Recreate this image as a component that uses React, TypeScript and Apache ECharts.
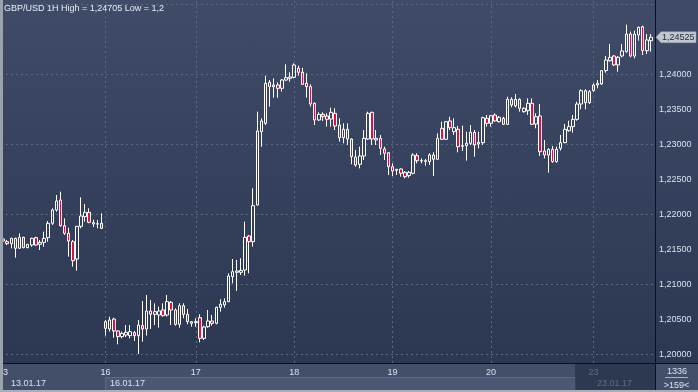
import React, { useEffect, useRef } from 'react';
import * as echarts from 'echarts';

// GBP/USD hourly bars: [open, close, low, high]
const day13: number[][] = [
  [1.21614, 1.21643, 1.21605, 1.21724], [1.21605, 1.21576, 1.21557, 1.21629], [1.21576, 1.21652, 1.21510, 1.21662],
  [1.21652, 1.21510, 1.21376, 1.21662], [1.21510, 1.21667, 1.21505, 1.21724], [1.21667, 1.21519, 1.21510, 1.21676],
  [1.21519, 1.21567, 1.21510, 1.21572], [1.21557, 1.21652, 1.21533, 1.21662], [1.21662, 1.21557, 1.21548, 1.21676],
  [1.21567, 1.21595, 1.21486, 1.21629], [1.21595, 1.21652, 1.21533, 1.21748], [1.21662, 1.21867, 1.21605, 1.21900],
  [1.21867, 1.22057, 1.21843, 1.22081], [1.22057, 1.22186, 1.22033, 1.22271], [1.22200, 1.21833, 1.21819, 1.22319],
  [1.21833, 1.21724, 1.21700, 1.21938], [1.21724, 1.21614, 1.21391, 1.21805], [1.21605, 1.21333, 1.21248, 1.21629],
  [1.21357, 1.21824, 1.21190, 1.21830], [1.21824, 1.21971, 1.21795, 1.22238], [1.21962, 1.22024, 1.21890, 1.22143],
  [1.22024, 1.21881, 1.21867, 1.22081], [1.21857, 1.21876, 1.21814, 1.21919], [1.21857, 1.21860, 1.21795, 1.21914],
  [1.21867, 1.21795, 1.21790, 1.22010],
];
const day16: number[][] = [
  [1.20462, 1.20367, 1.20262, 1.20486], [1.20357, 1.20486, 1.20319, 1.20533], [1.20500, 1.20329, 1.20233, 1.20519],
  [1.20329, 1.20248, 1.20138, 1.20338], [1.20248, 1.20295, 1.20224, 1.20319], [1.20271, 1.20310, 1.20243, 1.20414],
  [1.20262, 1.20319, 1.20224, 1.20414], [1.20305, 1.20262, 1.20186, 1.20329], [1.20262, 1.20414, 1.20000, 1.20486],
  [1.20405, 1.20357, 1.20176, 1.20757], [1.20357, 1.20614, 1.20262, 1.20843], [1.20614, 1.20567, 1.20357, 1.20771],
  [1.20567, 1.20605, 1.20414, 1.20724], [1.20557, 1.20614, 1.20376, 1.20676], [1.20629, 1.20548, 1.20533, 1.20724],
  [1.20557, 1.20748, 1.20533, 1.20843], [1.20738, 1.20629, 1.20414, 1.20757], [1.20629, 1.20424, 1.20405, 1.20652],
  [1.20424, 1.20690, 1.20376, 1.20724], [1.20690, 1.20567, 1.20510, 1.20724], [1.20567, 1.20462, 1.20424, 1.20643],
  [1.20462, 1.20438, 1.20390, 1.20471],
];
const day17: number[][] = [
  [1.20448, 1.20462, 1.20390, 1.20510], [1.20519, 1.20224, 1.20167, 1.20567], [1.20224, 1.20386, 1.20200, 1.20405],
  [1.20390, 1.20471, 1.20376, 1.20629], [1.20471, 1.20438, 1.20405, 1.20557], [1.20438, 1.20667, 1.20424, 1.20676],
  [1.20667, 1.20710, 1.20605, 1.20781], [1.20700, 1.20748, 1.20662, 1.20795], [1.20748, 1.21114, 1.20740, 1.21152],
  [1.21105, 1.21176, 1.21010, 1.21357], [1.21167, 1.21186, 1.20900, 1.21343], [1.21167, 1.21195, 1.21129, 1.21367],
  [1.21200, 1.21667, 1.21119, 1.21890], [1.21686, 1.21605, 1.21152, 1.21700], [1.21605, 1.22119, 1.21533, 1.22367],
  [1.22129, 1.23186, 1.22119, 1.23462], [1.23176, 1.23329, 1.22962, 1.23367], [1.23295, 1.23867, 1.23271, 1.23976],
  [1.23881, 1.23819, 1.23533, 1.23914], [1.23819, 1.23843, 1.23662, 1.23938], [1.23843, 1.23795, 1.23662, 1.23881],
  [1.23795, 1.23914, 1.23748, 1.23929], [1.23914, 1.23948, 1.23900, 1.24138], [1.23938, 1.23957, 1.23891, 1.24024],
];
const day18: number[][] = [
  [1.23952, 1.24129, 1.23938, 1.24152], [1.24081, 1.24024, 1.23976, 1.24119], [1.24024, 1.23852, 1.23843, 1.24090],
  [1.23867, 1.23819, 1.23662, 1.24010], [1.23819, 1.23571, 1.23533, 1.23852], [1.23581, 1.23343, 1.23271, 1.23595],
  [1.23343, 1.23424, 1.23329, 1.23452], [1.23424, 1.23390, 1.23329, 1.23452], [1.23400, 1.23352, 1.23248, 1.23438],
  [1.23357, 1.23452, 1.23248, 1.23519], [1.23438, 1.23257, 1.23200, 1.23510], [1.23271, 1.23090, 1.23033, 1.23367],
  [1.23090, 1.23210, 1.23010, 1.23295], [1.23210, 1.23071, 1.22986, 1.23295], [1.23071, 1.22819, 1.22710, 1.23081],
  [1.22814, 1.22700, 1.22676, 1.22914], [1.22710, 1.22829, 1.22652, 1.22962], [1.22829, 1.23081, 1.22771, 1.23200],
  [1.23071, 1.23438, 1.23057, 1.23462], [1.23452, 1.23071, 1.22986, 1.23462], [1.23081, 1.23057, 1.22986, 1.23200],
  [1.23081, 1.22938, 1.22843, 1.23129], [1.22929, 1.22867, 1.22771, 1.22962], [1.22876, 1.22676, 1.22557, 1.22881],
];
const day19: number[][] = [
  [1.22676, 1.22614, 1.22543, 1.22724], [1.22624, 1.22638, 1.22557, 1.22645], [1.22643, 1.22581, 1.22533, 1.22652],
  [1.22595, 1.22533, 1.22510, 1.22614], [1.22548, 1.22595, 1.22519, 1.22614], [1.22581, 1.22843, 1.22567, 1.22867],
  [1.22833, 1.22762, 1.22724, 1.22867], [1.22757, 1.22762, 1.22724, 1.22795], [1.22752, 1.22762, 1.22690, 1.22786],
  [1.22748, 1.22843, 1.22700, 1.22867], [1.22843, 1.22781, 1.22543, 1.22881], [1.22781, 1.23081, 1.22781, 1.23152],
  [1.23224, 1.23067, 1.23057, 1.23319], [1.23067, 1.23319, 1.23057, 1.23329], [1.23329, 1.23233, 1.23200, 1.23390],
  [1.23176, 1.23233, 1.23129, 1.23367], [1.23210, 1.22962, 1.22881, 1.23257], [1.22967, 1.22976, 1.22900, 1.23262],
  [1.22976, 1.23010, 1.22762, 1.23176], [1.23010, 1.23167, 1.22986, 1.23271], [1.23167, 1.22986, 1.22819, 1.23200],
  [1.23000, 1.23024, 1.22938, 1.23176], [1.23019, 1.23376, 1.22986, 1.23390], [1.23367, 1.23295, 1.23248, 1.23414],
];
const day20: number[][] = [
  [1.23295, 1.23405, 1.23248, 1.23414], [1.23414, 1.23329, 1.23319, 1.23438], [1.23319, 1.23381, 1.23305, 1.23400],
  [1.23367, 1.23281, 1.23271, 1.23390], [1.23281, 1.23638, 1.23271, 1.23676], [1.23638, 1.23557, 1.23524, 1.23667],
  [1.23543, 1.23638, 1.23524, 1.23714], [1.23638, 1.23510, 1.23462, 1.23652], [1.23462, 1.23510, 1.23448, 1.23524],
  [1.23476, 1.23581, 1.23414, 1.23652], [1.23581, 1.23281, 1.23271, 1.23652], [1.23286, 1.23390, 1.23224, 1.23438],
  [1.23400, 1.22890, 1.22829, 1.23571], [1.22900, 1.22843, 1.22795, 1.23057], [1.22843, 1.22924, 1.22590, 1.22938],
  [1.22924, 1.22748, 1.22733, 1.22971], [1.22748, 1.22924, 1.22733, 1.22962], [1.22938, 1.23019, 1.22905, 1.23129],
  [1.23019, 1.23210, 1.23010, 1.23286], [1.23190, 1.23248, 1.23176, 1.23333], [1.23248, 1.23352, 1.23162, 1.23414],
  [1.23352, 1.23571, 1.23333, 1.23605], [1.23571, 1.23762, 1.23495, 1.23781], [1.23762, 1.23590, 1.23495, 1.23781],
  [1.23590, 1.23748, 1.23571, 1.23771],
];
const day23: number[][] = [
  [1.23762, 1.23843, 1.23748, 1.23867], [1.23843, 1.23867, 1.23795, 1.23914], [1.23857, 1.24048, 1.23843, 1.24057],
  [1.24048, 1.24200, 1.24019, 1.24257], [1.24190, 1.24238, 1.24176, 1.24429], [1.24257, 1.24129, 1.24114, 1.24271],
  [1.24129, 1.24238, 1.24033, 1.24257], [1.24257, 1.24329, 1.24238, 1.24429], [1.24319, 1.24571, 1.24305, 1.24705],
  [1.24571, 1.24257, 1.24238, 1.24605], [1.24257, 1.24571, 1.24224, 1.24619], [1.24557, 1.24667, 1.24476, 1.24676],
  [1.24676, 1.24333, 1.24271, 1.24690], [1.24333, 1.24486, 1.24286, 1.24571], [1.24476, 1.24525, 1.24319, 1.24571],
];

const dayBars = [day13, day16, day17, day18, day19, day20, day23];
const dayLabels = ['13', '16', '17', '18', '19', '20', '23'];
const weekLabels = ['13.01.17', '16.01.17', '23.01.17'];
const priceTicks = [1.2, 1.205, 1.21, 1.215, 1.22, 1.225, 1.23, 1.235, 1.24, 1.245];
const symbol = 'GBP/USD';
const timeframe = '1H';
const counterLabel = '1336';

const FONT = '"Liberation Sans", Arial, sans-serif';
const W = 698;
const H = 392;
const LABEL_COLOR = '#d8e2f2';

const fmt = (v: number) => v.toFixed(5).replace('.', ',');
const fmtShort = (v: number) => String(Number(v.toFixed(5))).replace('.', ',');

export default function App() {
  const ref = useRef<HTMLDivElement>(null);

  useEffect(() => {
    const el = ref.current;
    if (!el) return;
    const chart = echarts.init(el, null, { renderer: 'svg' });

    const bars = dayBars.flat();
    const starts: number[] = [];
    let acc = 0;
    dayBars.forEach((d) => {
      starts.push(acc);
      acc += d.length;
    });
    const cats = bars.map((_, i) => String(i));
    const hi = Math.max(...bars.map((b) => b[3]));
    const lo = Math.min(...bars.map((b) => b[2]));
    const last = bars[bars.length - 1][1];
    const title = `${symbol} ${timeframe} High = ${fmtShort(hi)} Low = ${fmtShort(lo)}`;

    const txt = (id: string, text: string, x: number, y: number, fill: string, align = 'left', z = 20) => ({
      id, type: 'text', x, y, z, silent: true,
      style: { text, fill, fontSize: 9, fontFamily: FONT, align, verticalAlign: 'middle' },
    });

    const buildGraphic = (tagY: number | null, firstDayX: number | null) => {
      const g: any[] = [
        { id: 'bg', type: 'rect', z: -10, silent: true, shape: { x: 0, y: 0, width: W, height: H }, style: { fill: '#3a4661' } },
        {
          id: 'plotbg', type: 'rect', z: -9, silent: true, shape: { x: 0, y: 0, width: W, height: 363 },
          style: {
            fill: new echarts.graphic.LinearGradient(0, 0, 0, 1, [
              { offset: 0, color: '#3f4b67' },
              { offset: 1, color: '#2c3752' },
            ]),
          },
        },
        { id: 'xstrip', type: 'rect', z: -9, silent: true, shape: { x: 0, y: 363, width: W, height: 27 }, style: { fill: '#434f69' } },
        { id: 'weekbox', type: 'rect', z: -8, silent: true, shape: { x: 105.5, y: 377.5, width: 470, height: 13 }, style: { fill: '#4c5873', stroke: '#5b6883', lineWidth: 1 } },
        txt('wk0', weekLabels[0], 11, 383, LABEL_COLOR),
        txt('wk1', weekLabels[1], 110, 383, LABEL_COLOR),
        txt('wk2', weekLabels[2], 597, 383, LABEL_COLOR),
        { id: 'overlay', type: 'rect', z: 50, silent: true, shape: { x: 575, y: 364, width: 80, height: 26 }, style: { fill: 'rgba(36,46,70,0.68)' } },
        { id: 'hline', type: 'line', z: 60, silent: true, shape: { x1: 3, y1: 363.5, x2: W, y2: 363.5 }, style: { stroke: '#0d1018', lineWidth: 1 } },
        { id: 'vline', type: 'line', z: 60, silent: true, shape: { x1: 655.5, y1: 0, x2: 655.5, y2: 390 }, style: { stroke: '#0d1018', lineWidth: 1 } },
        { id: 'frameL', type: 'rect', z: 70, silent: true, shape: { x: 0, y: 0, width: 3, height: H }, style: { fill: '#9aa2b0' } },
        { id: 'frameB', type: 'rect', z: 70, silent: true, shape: { x: 0, y: 390, width: W, height: 2 }, style: { fill: '#a7aebb' } },
        txt('title', title, 4, 8, '#e8eef8'),
        txt('cnt', counterLabel, 677, 370.5, '#d8e2f0', 'center'),
        { id: 'cntline', type: 'line', z: 20, silent: true, shape: { x1: 665, y1: 377.5, x2: 688, y2: 377.5 }, style: { stroke: '#aab4c4', lineWidth: 1 } },
        txt('bars', `>${bars.length}<`, 676.5, 384.5, '#d8e2f0', 'center'),
      ];
      if (firstDayX != null) {
        // first day label sits on the clipped left edge; the frame covers its first digit
        g.push(txt('day0', dayLabels[0], firstDayX, 371.5, LABEL_COLOR, 'center'));
      }
      if (tagY != null) {
        g.push({
          id: 'tag', type: 'polygon', z: 80, silent: true,
          shape: { points: [[656, tagY], [661, tagY - 5.5], [696, tagY - 5.5], [696, tagY + 5.5], [661, tagY + 5.5]] },
          style: { fill: '#c3c7cf', stroke: '#9aa0aa', lineWidth: 0.5 },
        });
        g.push({ ...txt('tagtxt', fmt(last), 662, tagY, '#1f2a40'), z: 81 });
      }
      return g;
    };

    const option: any = {
      animation: false,
      backgroundColor: 'transparent',
      grid: { left: 1, width: 652, top: 0, height: 363, containLabel: false },
      xAxis: {
        type: 'category',
        data: cats,
        boundaryGap: true,
        axisLine: { show: false },
        axisTick: { show: false },
        splitLine: { show: false },
        axisLabel: {
          interval: (idx: number) => idx > 0 && starts.includes(idx),
          formatter: (_v: string, idx: number) => {
            const k = starts.indexOf(idx);
            return k > 0 ? dayLabels[k] : '';
          },
          hideOverlap: false,
          color: LABEL_COLOR,
          fontSize: 9,
          fontFamily: FONT,
          margin: 4,
        },
      },
      yAxis: {
        type: 'value',
        position: 'right',
        offset: 2,
        scale: true,
        min: 1.198714,
        max: 1.250571,
        splitNumber: 10,
        axisLine: { show: false },
        axisTick: { show: false },
        splitLine: { show: false },
        axisLabel: {
          color: LABEL_COLOR,
          fontSize: 9,
          fontFamily: FONT,
          margin: 4,
          // ticks hidden under the last-price tag are skipped
          formatter: (v: number) =>
            priceTicks.some((t) => Math.abs(t - v) < 1e-7) && Math.abs(v - last) > 0.0009 ? fmt(v) : '',
        },
      },
      series: [
        {
          type: 'candlestick',
          data: bars,
          barWidth: 3,
          itemStyle: {
            color: 'rgba(0,0,0,0)',
            color0: '#e0103c',
            borderColor: '#ffffff',
            borderColor0: '#ffffff',
            borderWidth: 1,
          },
          markLine: {
            silent: true,
            z: 1,
            symbol: 'none',
            label: { show: false },
            lineStyle: { color: '#5a6884', type: [2, 3], width: 1 },
            emphasis: { disabled: true },
            data: [
              ...priceTicks.map((v) => ({ yAxis: v })),
              ...starts.slice(1).map((i) => ({ xAxis: i })),
            ],
          },
        },
      ],
      graphic: buildGraphic(null, null),
    };

    chart.setOption(option);
    const tagY = chart.convertToPixel({ yAxisIndex: 0 }, last) as number;
    const firstDayX = chart.convertToPixel({ xAxisIndex: 0 }, starts[0]) as number;
    chart.setOption({ graphic: buildGraphic(tagY, firstDayX) });

    return () => chart.dispose();
  }, []);

  return <div ref={ref} style={{ position: 'fixed', left: 0, top: 0, width: W, height: H }} />;
}
